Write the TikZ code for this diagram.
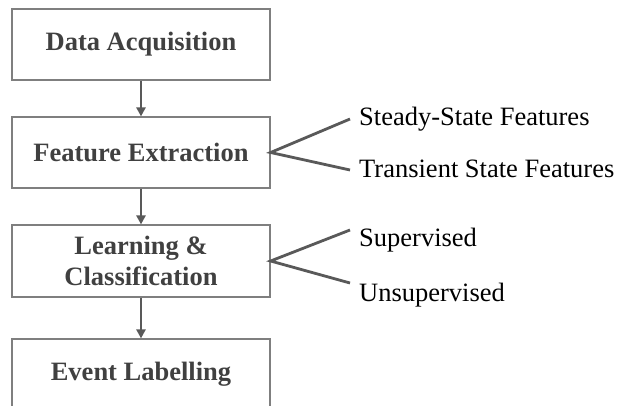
\documentclass[tikz,border=0pt]{standalone}
\usepackage{fontspec}
\setmainfont{Liberation Serif}
\usetikzlibrary{arrows.meta}
\definecolor{boxline}{HTML}{7F7F7F}
\definecolor{boxtext}{HTML}{404040}
\definecolor{linkgray}{HTML}{595959}
\begin{document}
\begin{tikzpicture}[x=1pt,y=-1pt,
  stage/.style={draw=boxline, line width=1.2pt, minimum width=258pt, minimum height=71pt,
    inner sep=0pt, align=center, text=boxtext,
    font=\fontsize{26.5}{31.8}\selectfont\bfseries},
  flow/.style={draw=linkgray, line width=2.5pt, -{Triangle[length=9pt,width=9pt]}},
  branch/.style={draw=linkgray, line width=2.8pt},
  leaf/.style={anchor=base west, inner sep=0pt, text=black,
    font=\fontsize{26.5}{31.8}\selectfont}]
\clip (0,0) rectangle (621,405);
\useasboundingbox (0,0) rectangle (621,405);

% processing stages
\node[stage] (acq)   at (141,44.5)  {Data Acquisition};
\node[stage] (feat)  at (141,152.5) {Feature Extraction};
\node[stage, minimum height=72pt] (learn) at (141,261) {Learning \&\\Classification};
\node[stage] (label) at (141,374.5) {Event Labelling};

% flow between stages
\draw[flow] (acq)   -- (feat);
\draw[flow] (feat)  -- (learn);
\draw[flow] (learn) -- (label);

% branch end points
\coordinate (f1) at (350,119);
\coordinate (f2) at (350,170);
\coordinate (l1) at (350,230);
\coordinate (l2) at (350,283);

\draw[branch] (f1) -- (feat.east) -- (f2);
\draw[branch] (l1) -- (learn.east) -- (l2);

% branch labels
\node[leaf] (steady)    at (359,125)   {Steady-State Features};
\node[leaf] (transient) at (359,177)   {Transient State Features};
\node[leaf] (sup)       at (359,246.7) {Supervised};
\node[leaf] (unsup)     at (359,301.7) {Unsupervised};
\end{tikzpicture}
\end{document}
